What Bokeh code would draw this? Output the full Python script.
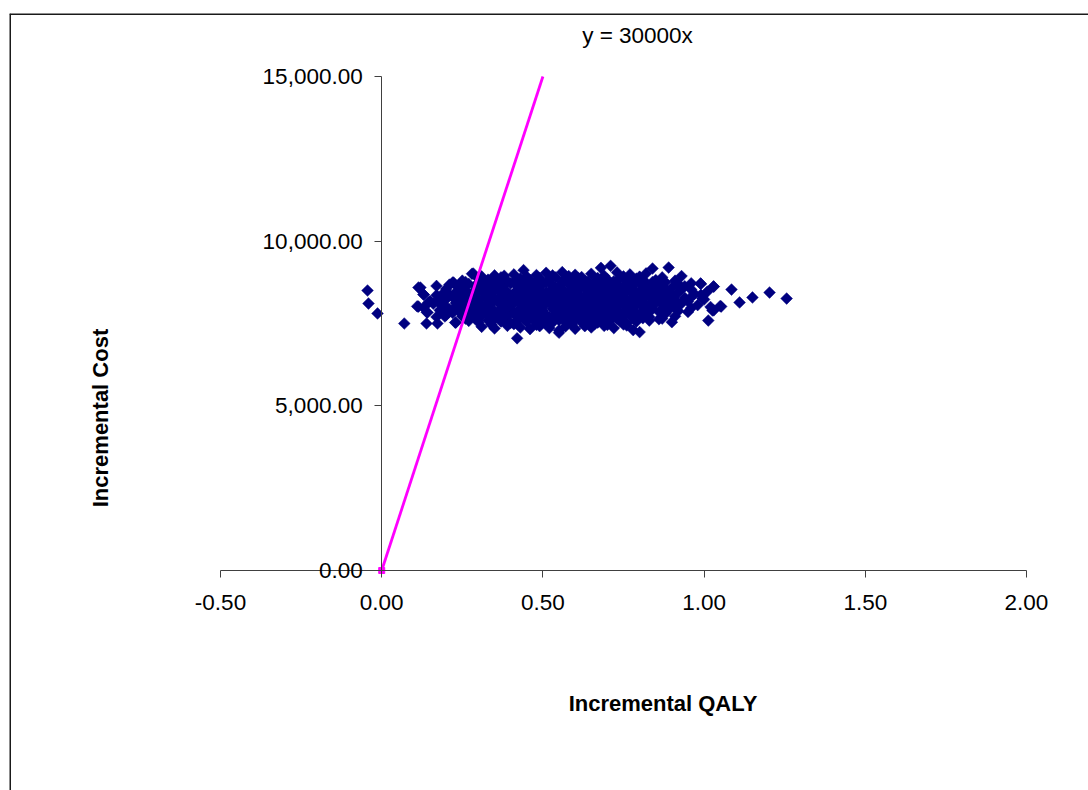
import math
from bokeh.plotting import figure
from bokeh.models import Range1d, FixedTicker, NumeralTickFormatter, Label, Span
from bokeh.embed import file_html
from bokeh.resources import INLINE

# ---- data ----
x_ticks = [-0.5, 0.0, 0.5, 1.0, 1.5, 2.0]
y_ticks = [0, 5000, 10000, 15000]

wtp = 30000
line_qaly = [0.0, 0.5]
line_cost = [wtp * q for q in line_qaly]

qaly = [
    0.28, 0.35, 0.41, 0.44, 0.48, 0.51, 0.56, 0.60, 0.65, 0.68, 0.71, 0.73, 0.77, 0.82, 0.84, 0.89, 0.93,
    0.31, 0.38, 0.45, 0.53, 0.58, 0.62, 0.69, 0.75, 0.80, 0.87,
    0.22, 0.25, 0.30, 0.33, 0.37, 0.39, 0.43, 0.46, 0.49, 0.52, 0.54, 0.57, 0.61, 0.63, 0.67, 0.70, 0.74, 0.76, 0.79, 0.81, 0.85, 0.88, 0.91, 0.96,
    0.26, 0.31, 0.34, 0.36, 0.41, 0.44, 0.48, 0.51, 0.56, 0.59, 0.64, 0.66, 0.69, 0.72, 0.77, 0.82, 0.84, 0.87, 0.92,
    0.12, 0.17, 0.21, 0.24, 0.27, 0.29, 0.32, 0.35, 0.38, 0.40, 0.42, 0.45, 0.47, 0.50, 0.53, 0.55, 0.58, 0.60, 0.62, 0.65, 0.68, 0.71, 0.73, 0.75, 0.78, 0.80, 0.83, 0.86, 0.90, 0.94, 0.99, 1.03,
    0.20, 0.25, 0.30, 0.33, 0.37, 0.43, 0.46, 0.49, 0.54, 0.56, 0.59, 0.63, 0.67, 0.70, 0.74, 0.76, 0.81, 0.85, 0.88, 0.93, 0.96,
    0.13, 0.19, 0.23, 0.26, 0.28, 0.31, 0.34, 0.36, 0.39, 0.41, 0.44, 0.46, 0.48, 0.51, 0.52, 0.56, 0.57, 0.59, 0.61, 0.64, 0.66, 0.69, 0.70, 0.72, 0.74, 0.77, 0.79, 0.82, 0.84, 0.87, 0.89, 0.92, 0.97, 1.01,
    0.17, 0.21, 0.24, 0.29, 0.33, 0.38, 0.39, 0.43, 0.48, 0.51, 0.54, 0.57, 0.61, 0.64, 0.66, 0.70, 0.72, 0.75, 0.80, 0.85, 0.90, 0.99,
    0.15, 0.20, 0.22, 0.25, 0.27, 0.30, 0.32, 0.35, 0.37, 0.40, 0.42, 0.45, 0.47, 0.49, 0.50, 0.53, 0.55, 0.58, 0.60, 0.62, 0.63, 0.65, 0.67, 0.68, 0.71, 0.73, 0.76, 0.78, 0.81, 0.83, 0.86, 0.88, 0.91, 0.94, 0.96, 1.00,
    0.18, 0.24, 0.28, 0.33, 0.34, 0.39, 0.44, 0.48, 0.52, 0.56, 0.59, 0.61, 0.66, 0.70, 0.74, 0.79, 0.84, 0.89, 0.95,
    0.11, 0.16, 0.19, 0.23, 0.26, 0.29, 0.31, 0.34, 0.36, 0.38, 0.41, 0.43, 0.46, 0.48, 0.51, 0.52, 0.54, 0.57, 0.59, 0.61, 0.64, 0.66, 0.69, 0.70, 0.72, 0.75, 0.77, 0.80, 0.82, 0.85, 0.87, 0.90, 0.93, 0.98, 1.02, 1.05,
    0.13, 0.20, 0.25, 0.28, 0.32, 0.39, 0.45, 0.49, 0.55, 0.56, 0.63, 0.67, 0.71, 0.73, 0.78, 0.83, 0.88, 0.91, 0.96,
    0.14, 0.18, 0.21, 0.24, 0.27, 0.30, 0.33, 0.35, 0.37, 0.40, 0.42, 0.44, 0.47, 0.49, 0.50, 0.53, 0.55, 0.58, 0.60, 0.62, 0.65, 0.67, 0.68, 0.71, 0.73, 0.76, 0.78, 0.81, 0.84, 0.86, 0.89, 0.92, 0.95, 1.03,
    0.22, 0.26, 0.29, 0.32, 0.38, 0.43, 0.45, 0.50, 0.56, 0.57, 0.61, 0.64, 0.70, 0.74, 0.79, 0.82, 0.88,
    0.17, 0.20, 0.25, 0.28, 0.31, 0.34, 0.36, 0.39, 0.41, 0.43, 0.46, 0.48, 0.51, 0.52, 0.54, 0.57, 0.59, 0.61, 0.63, 0.66, 0.69, 0.70, 0.72, 0.75, 0.77, 0.80, 0.83, 0.87, 0.91,
    0.26, 0.29, 0.35, 0.38, 0.44, 0.49, 0.56, 0.58, 0.65, 0.68, 0.73, 0.78, 0.81, 0.86,
    0.07, 0.23, 0.27, 0.30, 0.33, 0.37, 0.40, 0.42, 0.45, 0.47, 0.50, 0.53, 0.55, 0.58, 0.60, 0.62, 0.64, 0.67, 0.71, 0.74, 0.76, 0.79, 0.83, 0.90,
    0.34, 0.41, 0.48, 0.51, 0.59, 0.66, 0.70, 0.75,
    0.31, 0.35, 0.39, 0.43, 0.46, 0.49, 0.52, 0.55, 0.57, 0.60, 0.63, 0.65, 0.69, 0.72, 0.76, 0.78, 0.80,
    0.42, 0.55,
    -0.044, -0.041, -0.013, 0.114, 0.130, 0.145, 0.114, 0.142, 0.139, 0.173, 0.173, 0.198, 0.223, 0.238, 0.220, 0.196, 0.228, 0.284, 0.253,
    1.029, 1.085, 1.110, 1.150, 1.203, 1.256, 1.013, 1.026, 1.053, 0.995, 0.989,
]

cost = [
    9010, 8960, 8990, 9120, 8970, 9040, 9060, 8980, 9010, 9190, 9250, 9050, 8990, 9020, 9170, 9200, 8940,
    8930, 8950, 8920, 8960, 8940, 8910, 8950, 8930, 8920, 8900,
    8745, 8800, 8870, 8830, 8900, 8790, 8860, 8820, 8880, 8810, 8900, 8850, 8870, 8790, 8880, 8840, 8890, 8800, 8860, 8780, 8820, 8750, 8800, 8720,
    8760, 8740, 8770, 8730, 8760, 8750, 8780, 8740, 8760, 8730, 8770, 8750, 8740, 8780, 8750, 8740, 8760, 8720, 8700,
    8590, 8640, 8680, 8620, 8700, 8650, 8690, 8610, 8670, 8720, 8640, 8690, 8600, 8700, 8660, 8620, 8710, 8650, 8690, 8610, 8680, 8640, 8700, 8630, 8670, 8720, 8600, 8650, 8580, 8630, 8700, 8620,
    8550, 8570, 8560, 8580, 8550, 8570, 8560, 8540, 8580, 8560, 8550, 8570, 8540, 8560, 8580, 8550, 8570, 8540, 8560, 8550, 8530,
    8380, 8410, 8450, 8500, 8420, 8480, 8440, 8510, 8460, 8420, 8490, 8450, 8520, 8430, 8480, 8500, 8410, 8460, 8520, 8440, 8490, 8430, 8510, 8470, 8420, 8490, 8450, 8500, 8410, 8460, 8380, 8440, 8400, 8470,
    8360, 8380, 8370, 8390, 8360, 8380, 8350, 8370, 8390, 8360, 8380, 8370, 8390, 8350, 8380, 8370, 8360, 8390, 8370, 8360, 8350, 8370,
    8180, 8240, 8300, 8260, 8320, 8250, 8300, 8270, 8330, 8280, 8240, 8310, 8270, 8330, 8250, 8300, 8260, 8320, 8280, 8240, 8330, 8290, 8250, 8310, 8270, 8320, 8240, 8300, 8260, 8320, 8250, 8290, 8220, 8280, 8300, 8230,
    8190, 8200, 8180, 8210, 8190, 8200, 8180, 8210, 8190, 8200, 8180, 8210, 8190, 8200, 8180, 8190, 8210, 8180, 8170,
    8020, 8100, 8060, 8120, 8080, 8140, 8060, 8110, 8150, 8070, 8120, 8090, 8140, 8060, 8100, 8150, 8080, 8120, 8060, 8140, 8090, 8110, 8150, 8070, 8120, 8080, 8140, 8100, 8060, 8120, 8090, 8040, 8110, 8060, 8000, 8030,
    7980, 8010, 8000, 8020, 7990, 8010, 8000, 8020, 7990, 8010, 8000, 8020, 7990, 8010, 8000, 8020, 7990, 7980, 7970,
    7840, 7900, 7930, 7870, 7950, 7900, 7960, 7880, 7940, 7910, 7870, 7960, 7900, 7940, 7880, 7950, 7910, 7870, 7960, 7900, 7940, 7880, 7950, 7910, 7870, 7930, 7960, 7890, 7940, 7860, 7910, 7880, 7850, 7900,
    7820, 7830, 7810, 7840, 7820, 7830, 7810, 7840, 7820, 7830, 7810, 7840, 7820, 7830, 7810, 7820, 7800,
    7700, 7760, 7720, 7780, 7740, 7710, 7770, 7730, 7790, 7750, 7710, 7780, 7740, 7700, 7770, 7730, 7790, 7750, 7710, 7770, 7730, 7690, 7760, 7720, 7780, 7740, 7700, 7650, 7720,
    7650, 7660, 7640, 7670, 7650, 7660, 7640, 7670, 7650, 7660, 7640, 7650, 7660, 7630,
    7500, 7530, 7580, 7540, 7600, 7560, 7520, 7590, 7550, 7610, 7570, 7530, 7600, 7560, 7620, 7540, 7580, 7530, 7600, 7570, 7510, 7560, 7590, 7540,
    7470, 7480, 7460, 7490, 7470, 7480, 7460, 7470,
    7400, 7350, 7430, 7380, 7330, 7420, 7360, 7290, 7410, 7340, 7420, 7380, 7430, 7360, 7440, 7300, 7240,
    7050, 7220,
    8502, 8107, 7804, 8593, 8381, 8138, 8016, 7834, 7500, 7500, 8168, 8411, 8745, 8593, 7925, 7713, 7530, 9018, 7804,
    8624, 8532, 8138, 8290, 8441, 8259, 7591, 7895, 8016, 8259, 8715,
]

x_title = "Incremental QALY"
y_title = "Incremental Cost"
eq_text = "y = 30000x"

# ---- layout ----
W, H = 1088, 790
FONT = "Liberation Sans"
FS = "22.5px"
x_start, x_end = -1.1545, 2.1923
y_start, y_end = -6680, 16913

p = figure(width=W, height=H, x_range=Range1d(x_start, x_end), y_range=Range1d(y_start, y_end),
           output_backend="svg", toolbar_location=None,
           min_border_left=9, min_border_right=0, min_border_top=13, min_border_bottom=0)
p.grid.visible = False
p.outline_line_color = None
p.background_fill_color = "white"
p.border_fill_color = "white"

for ax, ticks, fmt, bnds in ((p.xaxis[0], x_ticks, "0.00", (x_ticks[0], x_ticks[-1])),
                             (p.yaxis[0], y_ticks, "0,0.00", (y_ticks[0], y_ticks[-1]))):
    ax.fixed_location = 0
    ax.ticker = FixedTicker(ticks=ticks)
    ax.formatter = NumeralTickFormatter(format=fmt)
    ax.bounds = bnds
    ax.minor_tick_line_color = None
    ax.major_tick_in = 0
    ax.major_tick_out = 7
    ax.axis_line_color = "#404040"
    ax.major_tick_line_color = "#404040"
    ax.major_label_text_font = FONT
    ax.major_label_text_font_size = FS
    ax.major_label_text_color = "black"

p.xaxis[0].major_label_standoff = 17
p.yaxis[0].major_label_standoff = 12

# chart-area border (left & top)
p.add_layout(Span(location=x_start, dimension="height", line_color="#1a1a1a", line_width=3))
p.add_layout(Span(location=y_end, dimension="width", line_color="#1a1a1a", line_width=3))

p.scatter(qaly, cost, marker="square", angle=math.pi / 4, size=8.3,
          fill_color="#000080", line_color="#000080", line_width=0.5)

p.line(line_qaly, line_cost, line_color="#FF00FF", line_width=2.8)
p.scatter(line_qaly[:1], line_cost[:1], marker="square", size=6, fill_color="#FF00FF", line_color="#FF00FF")

p.add_layout(Label(x=0.7934, y=16245, text=eq_text, text_align="center", text_baseline="middle",
                   text_font=FONT, text_font_size=FS, text_color="black"))
p.add_layout(Label(x=0.8725, y=-4038, text=x_title, text_align="center", text_baseline="middle",
                   text_font=FONT, text_font_size="22px", text_font_style="bold", text_color="black"))
p.add_layout(Label(x=-0.8722, y=4630, text=y_title, text_align="center", text_baseline="middle",
                   angle=math.pi / 2, text_font=FONT, text_font_size="22px", text_font_style="bold",
                   text_color="black"))

open("out.html", "w").write(file_html(p, INLINE))
